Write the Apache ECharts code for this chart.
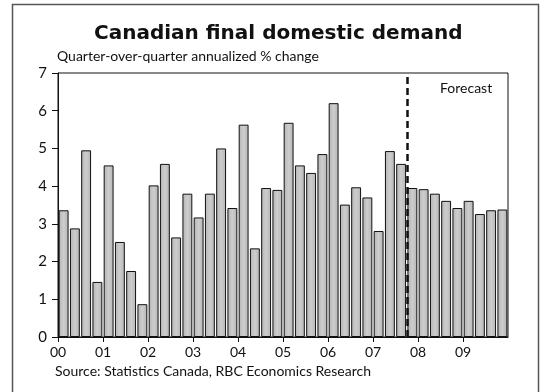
<!DOCTYPE html>
<html>
<head>
<meta charset="utf-8">
<script src="https://cdn.jsdelivr.net/npm/echarts@6/dist/echarts.min.js"></script>
<style>
  html, body { margin: 0; padding: 0; background: #fff; }
  #chart { width: 541px; height: 392px; }
</style>
</head>
<body>
<div id="chart"></div>
<script>
// quarters 2000Q1 .. 2009Q4
const years = ['00', '01', '02', '03', '04', '05', '06', '07', '08', '09']
const quarters = []
years.forEach(y => { for (let q = 1; q <= 4; q++) quarters.push(y + 'Q' + q) })

// quarter-over-quarter annualized % change (2007Q4 onward = forecast)
const demand = [
  3.36, 2.88, 4.95, 1.46,
  4.55, 2.52, 1.75, 0.87,
  4.02, 4.59, 2.64, 3.80,
  3.17, 3.80, 5.00, 3.42,
  5.63, 2.35, 3.95, 3.90,
  5.68, 4.55, 4.35, 4.85,
  6.20, 3.51, 3.97, 3.70,
  2.81, 4.93, 4.59, 3.95,
  3.92, 3.80, 3.61, 3.42,
  3.61, 3.26, 3.36, 3.38
]
const forecastStart = 31 // index of 2007Q4
const yTicks = [0, 1, 2, 3, 4, 5, 6, 7]

const font = 'Lato, "DejaVu Sans", sans-serif'
var myChart = echarts.init(document.getElementById('chart'), null, { renderer: 'canvas' })

let option = {
  backgroundColor: '#fff',
  animation: false,
  title: [
    {
      text: 'Canadian final domestic demand',
      left: 94,
      top: 24,
      padding: 0,
      textStyle: { fontFamily: '"DejaVu Sans", sans-serif', fontSize: 20, fontWeight: 'bold', color: '#111' }
    },
    {
      text: 'Quarter-over-quarter annualized % change',
      left: 57,
      top: 49,
      padding: 0,
      textStyle: { fontFamily: font, fontSize: 14, fontWeight: 'normal', color: '#111' }
    },
    {
      text: 'Source: Statistics Canada, RBC Economics Research',
      left: 55,
      top: 364,
      padding: 0,
      textStyle: { fontFamily: font, fontSize: 14, fontWeight: 'normal', color: '#111' }
    }
  ],
  graphic: [
    { // outer frame
      type: 'rect',
      shape: { x: 12.5, y: 4.5, width: 526, height: 400 },
      style: { fill: null, stroke: '#555', lineWidth: 1.5 },
      silent: true
    },
    {
      type: 'text',
      left: 440,
      top: 81,
      style: { text: 'Forecast', font: '14px ' + font, fill: '#111' }
    }
  ],
  grid: {
    left: 58,
    right: 33,
    top: 73,
    bottom: 55,
    show: true,
    borderColor: '#111',
    borderWidth: 1
  },
  xAxis: [
    {
      type: 'category',
      data: quarters,
      show: false
    },
    {
      type: 'value',
      position: 'bottom',
      min: 0,
      max: quarters.length,
      interval: 4,
      splitLine: { show: false },
      axisLine: { show: true, lineStyle: { color: '#111' } },
      axisTick: { show: true, inside: false, length: 5, lineStyle: { color: '#111' } },
      axisLabel: {
        showMaxLabel: false,
        margin: 8,
        fontFamily: font,
        fontSize: 14,
        color: '#111',
        formatter: v => years[v / 4] || ''
      }
    }
  ],
  yAxis: {
    type: 'value',
    min: yTicks[0],
    max: yTicks[yTicks.length - 1],
    interval: 1,
    splitLine: { show: false },
    axisLine: { show: true, lineStyle: { color: '#111' } },
    axisTick: { show: true, inside: false, length: 6, lineStyle: { color: '#111' } },
    axisLabel: { margin: 11, fontFamily: font, fontSize: 15, color: '#111' }
  },
  series: [
    {
      type: 'bar',
      xAxisIndex: 0,
      data: demand,
      barCategoryGap: '12%',
      itemStyle: {
        color: {
          type: 'linear', x: 0, y: 0, x2: 1, y2: 0,
          colorStops: [
            { offset: 0, color: '#b4b4b4' },
            { offset: 0.5, color: '#cdcdcd' },
            { offset: 1, color: '#b4b4b4' }
          ]
        },
        borderColor: '#111',
        borderWidth: 1
      }
    },
    {
      type: 'line',
      xAxisIndex: 1,
      data: [],
      markLine: {
        silent: true,
        symbol: 'none',
        label: { show: false },
        lineStyle: { color: '#111', type: [7, 4], width: 2.5 },
        data: [{ xAxis: forecastStart }]
      }
    }
  ]
}

option && myChart.setOption(option)
</script>
</body>
</html>
